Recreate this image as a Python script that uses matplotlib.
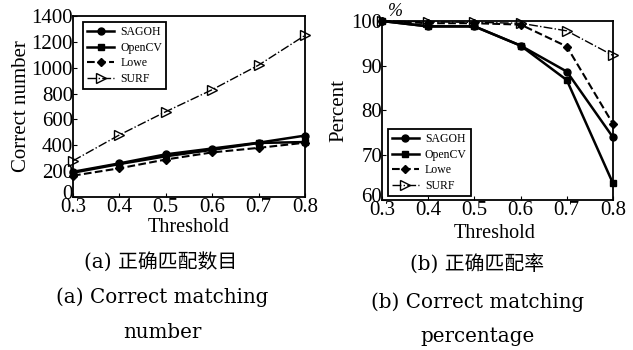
import matplotlib
matplotlib.use("Agg")
import matplotlib.pyplot as plt
from matplotlib.transforms import ScaledTranslation

thresholds = [0.3, 0.4, 0.5, 0.6, 0.7, 0.8]
xticks = [0.3, 0.4, 0.5, 0.6, 0.7, 0.8]

num_sagoh = [195, 260, 330, 375, 420, 475]
num_opencv = [188, 255, 315, 365, 418, 425]
num_lowe = [165, 222, 290, 345, 380, 420]
num_surf = [280, 480, 660, 830, 1020, 1250]

pct_sagoh = [100, 98.8, 98.8, 94.5, 88.7, 74.0]
pct_opencv = [100, 98.8, 98.8, 94.5, 86.8, 63.7]
pct_lowe = [100, 99.5, 99.5, 99.2, 94.3, 77.0]
pct_surf = [100, 99.8, 99.7, 99.5, 97.8, 92.3]

labels = ["SAGOH", "OpenCV", "Lowe", "SURF"]

plt.rcParams['font.family'] = ['Liberation Serif', 'Noto Sans CJK SC']

fig = plt.figure(figsize=(6.33, 3.5), dpi=100)
W, H = 633, 350
ax1 = fig.add_axes([73 / W, 1 - 197 / H, (305 - 73) / W, (197 - 16) / H])
ax2 = fig.add_axes([382 / W, 1 - 200 / H, (613 - 382) / W, (200 - 21) / H])

styles = [
    dict(linestyle='-', marker='o', lw=1.8, ms=5),
    dict(linestyle='-', marker='s', lw=1.8, ms=5),
    dict(linestyle='--', marker='D', lw=1.5, ms=4),
    dict(linestyle='-.', marker='>', lw=1.0, ms=7),
]

for ax, series in [(ax1, [num_sagoh, num_opencv, num_lowe, num_surf]),
                   (ax2, [pct_sagoh, pct_opencv, pct_lowe, pct_surf])]:
    for s, lab, st in zip(series, labels, styles):
        ax.plot(thresholds, s, color='black', label=lab,
                markerfacecolor='black' if st['marker'] != '>' else 'none',
                markeredgecolor='black', clip_on=False, **st)
    ax.set_xlim(0.3, 0.8)
    ax.set_xticks(xticks)
    ax.set_xticklabels([f"{t:.1f}" for t in xticks])
    ax.tick_params(direction='in', labelsize=15, length=3, pad=0)
    ax.tick_params(axis='x', pad=1)
    for sp in ax.spines.values():
        sp.set_linewidth(1.3)

leg_kw = dict(fontsize=8.5, frameon=True, fancybox=False, edgecolor='black',
              handlelength=2.3, borderpad=0.35, labelspacing=0.3,
              handletextpad=0.5, framealpha=1, borderaxespad=0)

ax1.set_ylim(0, 1400)
ax1.set_yticks(range(0, 1401, 200))
ax1.set_ylabel("Correct number", fontsize=15, labelpad=0)
ax1.legend(loc='upper left', bbox_to_anchor=(0.043, 0.967), **leg_kw).get_frame().set_linewidth(1.3)

ax2.set_ylim(60, 100)
ax2.set_yticks([60, 70, 80, 90, 100])
ax2.set_ylabel("Percent", fontsize=15, labelpad=2)
ax2.legend(loc='lower left', bbox_to_anchor=(0.025, 0.022), **leg_kw).get_frame().set_linewidth(1.3)

# raise the bottom y tick label a little, as in the reference
for ax in (ax1, ax2):
    lbl = ax.get_yticklabels()[0]
    lbl.set_transform(lbl.get_transform() + ScaledTranslation(0, 5 / 100, fig.dpi_scale_trans))

fig.text(395 / W, 1 - 12 / H, "%", fontsize=13, ha='center', va='center', style='italic')

fig.text(189 / W, 1 - 228 / H, "Threshold", fontsize=14.5, ha='center', va='center')
fig.text(495 / W, 1 - 233 / H, "Threshold", fontsize=14.5, ha='center', va='center')
cap_font = ['DejaVu Serif', 'Noto Sans CJK SC']
fig.text(161 / W, 1 - 262 / H, "(a) 正确匹配数目", fontsize=14.3, ha='center', va='center', family=cap_font)
fig.text(162 / W, 1 - 297 / H, "(a) Correct matching", fontsize=14.3, ha='center', va='center', family=cap_font)
fig.text(162 / W, 1 - 333 / H, "number", fontsize=14.3, ha='center', va='center', family=cap_font)
fig.text(477 / W, 1 - 265 / H, "(b) 正确匹配率", fontsize=14.3, ha='center', va='center', family=cap_font)
fig.text(478 / W, 1 - 302 / H, "(b) Correct matching", fontsize=14.3, ha='center', va='center', family=cap_font)
fig.text(478 / W, 1 - 337 / H, "percentage", fontsize=14.3, ha='center', va='center', family=cap_font)

fig.savefig("out.png", dpi=100)
